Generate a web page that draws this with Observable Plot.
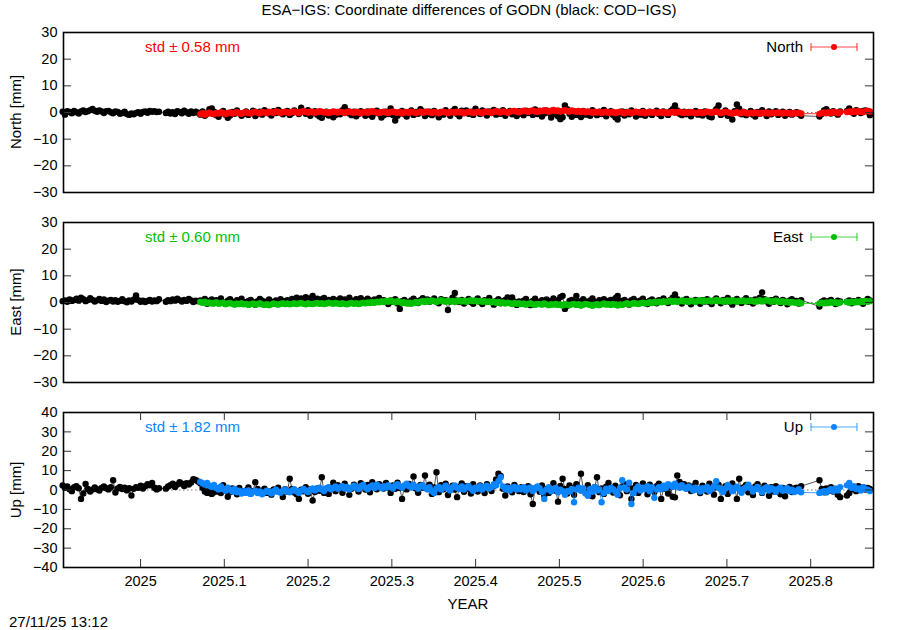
<!DOCTYPE html>
<html><head><meta charset="utf-8">
<script src="https://cdn.jsdelivr.net/npm/d3@7"></script>
<script src="https://cdn.jsdelivr.net/npm/@observablehq/plot@0.6"></script>
<style>
body{margin:0;background:#fff;}
#wrap{position:relative;width:900px;height:630px;font-family:"Liberation Sans",Arial,Helvetica,sans-serif;font-size:15px;color:#000;overflow:hidden;background:#fff;}
.abs{position:absolute;white-space:nowrap;line-height:18px;}
</style></head><body><div id="wrap"></div>
<script>
const title = "ESA\u2212IGS: Coordinate differences of GODN (black: COD\u2212IGS)";
const timestamp = "27/11/25 13:12";
const xLabel = "YEAR";
const xTicks = [2025, 2025.1, 2025.2, 2025.3, 2025.4, 2025.5, 2025.6, 2025.7, 2025.8];
const xDomain = [2024.908, 2025.875];
const blackStart = 2024.907;   // decimal year of first COD-IGS epoch (daily)
const colorStartDay = 60;      // ESA-IGS series starts 60 days later
const names = ["North", "East", "Up"];
const axisLabels = ["North [mm]", "East [mm]", "Up [mm]"];
const stdTexts = ["std \u00b1 0.58 mm", "std \u00b1 0.60 mm", "std \u00b1 1.82 mm"];
const colors = ["#ff0000", "#00c000", "#0a85ff"];
const yTicksNE = [-30, -20, -10, 0, 10, 20, 30];
const yTicksU = [-40, -30, -20, -10, 0, 10, 20, 30, 40];

// COD-IGS (black), daily
const northCOD = [
0.3,-0.8,0.5,0.2,-0.3,0.6,0.1,-0.4,0.4,0.8,0.2,0.5,0.9,1.3,0.7,0.3,0.8,0.4,-0.2,0.5,
0.6,0.1,-0.3,0.4,0.2,-0.5,-0.2,0.3,-0.6,-0.9,-0.4,-0.7,-0.2,0.1,-0.5,0.2,0.4,-0.1,0.6,0.3,
0.5,0.2,0.3,null,null,-0.2,0.3,-0.4,0.1,-0.6,0.5,0.2,-0.3,0.7,0.1,-0.5,0.4,-0.2,0.3,-0.1,
-0.8,0.4,-1.2,-0.5,1.2,1.5,0.3,-1.0,-1.6,-0.4,0.6,-0.8,-2.0,-1.1,0.2,-0.5,0.8,-0.3,-1.2,-0.6,
0.4,-0.9,-0.2,0.7,-1.3,-0.5,0.3,-0.8,0.9,0.2,-0.4,-1.1,0.5,-0.2,1.0,0.3,-0.7,-0.1,0.6,-0.9,
-0.3,0.8,0.2,-0.6,1.8,0.4,-0.5,0.9,-1.2,-0.3,0.5,-0.8,-1.5,-2.0,-0.6,0.3,-1.1,-0.2,-1.8,-0.9,
0.2,-0.7,0.9,2.0,0.6,-0.4,-1.0,0.3,-1.4,-0.6,0.5,-0.2,-1.2,0.4,-0.8,-1.6,-0.3,0.7,-0.5,-1.9,
-1.0,0.3,-0.6,1.5,-0.9,-3.0,-1.2,-0.4,0.6,-0.7,-1.5,-0.2,0.8,-0.9,0.2,-0.5,1.2,0.4,-1.3,-0.6,
0.3,-1.0,0.6,-0.4,-1.8,0.2,-0.8,0.9,-0.3,-1.2,0.5,1.3,-0.6,-1.4,0.7,-0.2,0.8,-0.5,0.3,-0.9,
1.4,0.2,-0.6,0.8,-0.3,-1.1,0.4,-0.2,1.0,-0.8,0.3,-0.5,0.9,-1.2,0.1,0.6,-0.7,0.2,-1.3,0.5,
-0.4,-1.0,0.7,-0.2,0.4,-0.9,1.1,-0.6,0.3,-1.5,-0.4,0.8,-0.1,-1.9,0.5,-0.7,-1.4,-2.5,-1.8,2.6,
1.2,-0.5,-1.6,0.4,-0.9,-0.3,-1.7,0.6,-0.8,0.2,-1.2,0.9,-0.4,-1.0,0.3,-0.6,1.0,-1.4,-0.2,0.5,
-0.9,-1.8,-2.6,-0.5,0.4,-1.1,0.2,-0.7,0.8,-0.3,-1.5,0.1,-0.8,0.6,-1.2,-0.4,0.3,-0.9,-0.2,0.7,
-0.6,-1.3,0.4,-0.2,-0.9,0.5,1.2,2.6,0.8,-0.5,-1.0,0.3,-0.7,0.2,-1.4,-0.3,0.6,-0.8,0.1,-1.1,
0.4,-0.6,-1.5,-1.8,0.3,1.2,2.6,-0.9,-0.3,0.8,-1.2,-0.4,-2.6,0.5,3.0,1.4,-0.7,0.2,-1.0,-0.3,
0.6,-0.8,-1.5,0.2,-0.5,0.9,-0.2,-1.3,0.4,-0.7,-0.1,0.5,-0.9,-0.4,0.3,-1.2,-0.6,0.2,-0.8,-0.3,
0.1,-0.5,-1.2,null,null,null,null,null,null,null,-1.5,-0.6,0.8,1.2,0.3,-0.4,0.5,-0.2,-0.8,0.4,
null,null,0.6,1.5,0.2,-0.5,0.9,0.3,-0.2,0.6,0.8,0.4,-1.0];
const eastCOD = [
0.5,0.8,0.3,1.1,0.6,0.9,1.4,0.7,1.8,1.2,0.5,0.9,1.6,1.0,0.4,0.8,1.3,0.6,1.1,0.2,
0.7,1.0,0.4,0.9,0.3,0.6,1.2,0.5,0.1,0.8,0.4,1.1,2.6,0.9,0.3,0.7,0.2,0.6,1.0,0.4,
0.8,0.5,1.2,null,null,0.3,0.9,0.5,1.1,0.7,1.4,0.9,0.4,1.0,0.6,1.3,0.8,0.2,0.7,0.5,
0.8,0.2,1.3,-0.5,0.6,1.1,-0.3,0.9,0.4,1.5,0.1,-0.6,0.7,1.2,0.3,-0.4,0.9,0.5,1.4,0.2,
-0.3,0.6,1.0,0.2,-0.8,0.5,1.3,0.7,-0.2,0.4,1.1,0.3,-0.5,0.8,0.2,1.2,0.6,-0.1,0.9,0.4,
1.3,0.7,1.8,0.9,1.5,0.6,2.0,1.1,1.6,2.5,0.8,1.4,0.5,1.2,1.7,0.4,1.0,0.6,1.3,0.2,
0.9,1.5,0.6,1.1,0.3,1.8,0.7,0.2,1.2,0.5,1.6,0.9,0.3,1.4,0.8,0.1,1.1,0.6,1.7,0.4,
0.9,0.2,-0.6,0.8,0.3,1.2,-0.4,-2.4,0.5,1.0,0.2,-0.3,0.8,1.4,0.6,-0.2,0.9,1.6,0.4,1.1,
0.3,0.8,1.5,0.5,-0.3,1.2,0.6,0.9,-2.8,0.4,1.8,3.6,0.7,0.2,1.0,-0.4,0.6,1.3,0.2,-0.5,
0.8,1.5,0.3,-0.6,0.9,0.4,1.7,0.2,-0.8,0.6,1.2,-0.3,0.5,1.0,1.9,0.6,1.9,0.3,-0.9,0.4,
-0.5,0.7,1.3,0.1,-1.0,0.6,1.4,0.3,-0.4,0.9,-0.2,1.1,0.5,-0.6,1.5,0.8,0.2,2.0,2.5,-2.4,
-1.2,0.6,1.0,0.2,2.5,0.5,-1.0,1.2,0.4,-0.3,0.8,1.5,0.2,-0.5,0.9,0.3,1.2,-0.2,0.6,1.0,
0.4,1.6,2.5,0.7,-0.4,1.0,0.3,-0.8,0.9,1.3,0.5,-0.2,0.8,1.4,0.2,-0.6,0.7,1.1,0.4,-0.3,
0.9,0.3,1.5,0.6,-0.2,1.0,1.8,3.0,1.2,0.5,-0.4,0.8,1.3,0.2,-0.7,0.6,1.0,0.3,-0.5,0.9,
0.4,1.2,0.2,-0.6,0.8,1.5,0.6,-0.3,1.0,0.4,1.7,0.2,-0.8,0.7,1.3,0.5,-0.2,0.9,1.6,0.3,
0.8,-0.4,1.1,0.5,1.8,3.8,1.2,0.4,-0.5,0.9,0.3,1.4,0.6,-0.2,1.0,0.4,-0.7,0.8,1.2,0.3,
0.6,-0.4,0.9,null,null,null,null,null,null,null,-1.5,0.3,0.8,-0.2,0.5,1.0,0.2,-0.6,0.7,0.4,
null,null,0.3,0.8,-0.3,0.5,0.2,1.0,0.4,-0.5,0.6,1.3,0.8];
const upCOD = [
2.3,1.2,1.8,0.4,-0.6,1.5,2.0,0.9,-4.6,-1.8,3.1,0.5,-0.8,0.2,1.3,0.4,-0.3,1.1,1.8,0.9,
0.3,1.4,5.0,-1.3,0.8,1.6,0.5,1.2,-0.2,0.9,-2.8,0.6,1.5,1.1,2.2,0.8,1.9,3.0,2.4,3.6,
1.2,0.3,0.9,null,null,0.7,1.8,2.5,3.3,1.6,2.8,4.0,3.2,2.1,3.5,2.8,3.9,5.6,5.2,4.4,
3.5,1.2,-0.8,-1.5,0.4,-2.0,-1.2,0.6,-0.9,-1.6,2.5,-0.4,-3.5,-1.1,0.8,-0.3,-2.2,1.0,-0.5,-1.4,
-0.2,1.3,-1.8,-0.6,4.0,0.5,-1.1,-0.3,0.7,-1.5,-0.8,-2.4,0.3,-0.6,1.2,-1.0,-3.6,0.4,-0.9,5.8,
0.6,-1.3,-2.2,-4.6,0.2,-0.7,1.5,-1.9,0.3,-5.4,-1.0,0.8,-0.4,6.6,-1.5,0.5,-2.0,1.2,3.8,-0.6,
2.5,0.8,-1.4,3.2,1.0,-2.5,0.6,2.8,1.4,-0.8,3.5,1.9,0.2,2.6,-1.2,4.0,1.5,0.4,3.0,2.2,
0.8,3.6,1.2,-1.5,2.4,0.6,3.8,1.0,-4.6,2.0,0.3,3.1,1.6,7.0,0.8,-1.4,2.6,1.1,7.5,0.5,
2.8,-2.0,1.3,9.2,-1.1,2.5,0.4,3.3,-2.6,1.0,2.2,0.2,-3.7,1.6,3.4,-0.9,2.0,0.6,-1.8,3.0,
1.0,-0.8,2.4,0.5,-1.6,3.0,1.4,-0.5,2.2,5.5,8.4,7.2,0.6,-2.8,1.8,0.3,-1.2,2.6,1.0,-0.6,
1.5,-1.0,0.4,2.0,-2.2,-7.2,0.8,1.6,-0.9,2.3,-2.8,0.5,-1.5,1.2,3.5,-0.4,-6.0,2.1,5.8,0.6,
-1.8,2.4,0.9,-2.5,3.0,1.2,8.4,0.2,-1.4,2.5,0.6,-3.2,1.5,6.6,-1.1,0.8,-2.0,1.7,3.6,0.4,
-1.3,2.2,0.5,-2.7,1.8,3.0,-0.6,1.2,-4.6,0.9,2.6,-1.5,0.4,3.4,1.0,-2.2,2.8,0.3,-1.0,1.9,
3.2,-4.6,0.7,2.0,-1.8,1.4,-3.5,-3.8,7.5,4.2,1.6,3.0,0.8,2.4,-0.5,1.8,3.6,0.2,-1.6,2.2,
1.0,-0.8,3.2,0.6,-2.4,1.5,2.8,-4.6,-0.3,1.9,-2.0,0.8,3.4,1.2,-4.6,5.8,-0.6,1.5,2.6,-1.2,
0.9,-2.6,1.8,3.0,0.4,-1.5,2.2,0.6,-3.0,1.4,-0.8,2.0,0.3,-2.2,1.1,-3.2,0.5,1.6,-1.0,0.8,
1.2,-0.5,2.0,null,null,null,null,null,null,null,5.0,0.6,-1.2,0.8,-0.4,1.5,-0.8,0.3,-2.5,-3.7,
null,null,-2.8,-1.5,0.4,1.2,-0.6,2.0,0.8,1.5,0.2,1.0,0.5];

// ESA-IGS (coloured), daily
const northESA = [
-0.6,-0.3,-0.8,-0.4,-0.1,-0.5,-0.7,-0.2,-0.4,0.1,-0.3,-0.6,-0.2,0.0,-0.4,-0.1,0.2,-0.3,-0.5,-0.1,
0.1,-0.2,-0.4,0.0,0.3,-0.1,-0.3,0.2,0.0,-0.2,0.3,0.1,-0.1,0.4,0.2,-0.2,0.1,0.3,0.0,-0.1,
0.2,0.4,0.1,-0.2,0.3,0.5,0.2,0.0,0.4,0.1,-0.1,0.2,0.5,0.3,0.0,0.2,-0.2,0.1,0.4,0.2,
0.0,0.3,0.1,-0.2,0.2,0.4,0.1,-0.1,0.3,0.0,-0.3,0.1,0.2,-0.1,0.3,0.5,0.2,0.0,-0.2,0.1,
0.3,0.0,-0.2,0.2,0.4,0.1,-0.1,0.2,-0.3,0.0,0.2,-0.1,0.3,0.1,-0.2,0.0,0.3,-0.1,0.2,0.4,
0.1,-0.2,0.2,0.0,-0.3,0.1,0.3,0.0,-0.2,0.2,0.1,-0.1,0.3,0.0,0.2,-0.3,0.0,0.2,0.1,-0.2,
0.1,0.3,0.0,-0.2,0.2,0.4,0.1,-0.1,0.3,0.5,0.2,0.0,0.4,0.2,-0.1,0.3,0.5,0.6,0.3,0.1,
0.4,0.7,0.5,0.2,0.6,0.8,0.4,0.3,0.7,0.5,0.9,0.6,0.3,0.7,1.0,0.5,0.8,0.4,0.6,0.9,
0.7,0.4,0.8,0.5,0.3,0.6,0.2,0.5,0.1,0.4,0.2,-0.1,0.3,0.0,0.2,-0.2,0.1,0.3,-0.1,0.0,
0.2,-0.2,0.1,0.3,0.0,-0.3,0.1,0.2,-0.2,0.0,0.3,0.1,-0.1,0.2,-0.3,0.0,0.2,-0.1,0.1,-0.2,
0.0,0.2,-0.2,0.1,-0.3,0.0,0.2,-0.1,0.1,0.3,0.0,-0.2,0.1,-0.1,0.2,0.0,-0.3,-0.1,0.1,-0.2,
0.0,0.3,0.1,-0.1,0.2,0.4,0.1,-0.2,0.0,0.3,0.1,-0.2,-0.4,-0.1,0.1,-0.3,-0.1,0.2,-0.2,-0.4,
-0.1,-0.3,0.0,-0.2,-0.5,-0.1,-0.3,0.0,-0.4,-0.2,-0.1,-0.3,0.0,-0.2,-0.4,-0.1,-0.3,-0.2,-0.5,-0.2,
-0.3,-0.1,-0.4,null,null,null,null,null,null,null,-0.5,-0.2,0.0,-0.3,0.1,-0.2,0.2,0.0,-0.3,0.1,
null,null,0.2,0.4,0.1,0.5,0.2,0.6,0.3,0.1,0.5,0.7,0.4];
const eastESA = [
0.2,-0.1,0.3,-0.3,0.0,-0.4,-0.2,0.1,-0.5,-0.3,-0.1,-0.6,-0.4,-0.2,-0.5,-0.8,-0.4,-0.6,-0.3,-0.7,
-0.5,-0.9,-0.6,-0.4,-0.8,-0.5,-0.3,-0.7,-0.9,-0.6,-1.0,-0.7,-0.4,-0.6,-0.8,-0.5,-0.3,-0.6,-0.4,-0.7,
-0.5,-0.3,-0.6,-0.4,-0.2,-0.5,-0.7,-0.3,-0.5,-0.6,-0.4,-0.2,-0.5,-0.3,-0.6,-0.4,-0.1,-0.3,-0.5,-0.2,
-0.4,-0.6,-0.3,-0.5,-0.7,-0.4,-0.2,-0.5,-0.3,-0.6,-0.4,-0.1,-0.3,0.0,-0.2,0.2,-0.1,0.3,0.1,0.5,
0.2,0.6,0.3,0.8,0.4,0.1,0.5,0.2,-0.2,0.1,-0.4,-0.1,-0.5,-0.2,0.2,-0.1,0.3,0.6,0.2,0.7,
0.4,0.8,0.5,0.2,0.6,0.9,0.5,0.3,0.7,0.4,0.6,0.2,0.5,0.8,0.4,0.7,0.3,0.6,0.9,0.5,
0.7,0.4,0.6,0.3,0.5,0.2,0.4,0.1,0.3,-0.1,0.2,-0.2,0.0,-0.4,-0.1,-0.3,-0.6,-0.2,-0.5,-0.3,
-0.6,-0.4,-0.8,-0.5,-0.3,-0.7,-0.9,-0.5,-0.6,-0.8,-0.4,-0.7,-1.0,-0.6,-0.8,-0.5,-0.9,-0.7,-1.1,-0.6,
-0.8,-1.0,-0.7,-0.5,-0.9,-0.6,-1.1,-0.8,-0.5,-0.7,-0.9,-1.2,-0.8,-0.6,-1.0,-0.7,-0.4,-0.8,-0.6,-0.9,
-0.5,-0.8,-1.1,-0.7,-0.9,-0.6,-0.3,-0.7,-0.5,-0.2,-0.4,-0.6,-0.3,-0.1,-0.4,-0.2,0.1,-0.2,0.2,0.0,
0.3,0.1,0.5,0.2,0.4,0.7,0.3,0.6,0.2,0.5,0.8,0.4,0.6,0.3,0.7,0.5,0.2,0.6,0.9,0.4,
0.7,0.5,0.8,0.4,0.6,1.0,0.5,0.7,0.3,0.6,0.8,0.4,0.9,0.6,0.3,0.7,0.5,0.8,0.4,0.6,
0.8,0.5,0.3,0.6,0.9,0.4,0.7,1.0,0.6,0.3,0.5,0.8,0.4,0.2,0.5,0.1,0.3,-0.1,0.2,0.0,
-0.2,0.1,-0.3,null,null,null,null,null,null,null,-0.4,-0.1,-0.3,0.0,-0.2,0.2,-0.1,0.1,-0.3,0.0,
null,null,0.2,-0.1,0.3,0.0,0.4,0.1,0.5,0.2,0.6,0.3,0.5];
const upESA = [
4.2,3.5,2.8,3.6,2.2,1.5,2.6,1.0,0.3,1.8,0.5,-0.4,1.2,0.2,-0.8,0.6,-1.2,-0.3,-1.8,-0.6,
-1.5,-0.2,-2.0,-1.0,-0.4,-1.6,-0.8,-2.2,-1.2,-0.3,-1.0,-1.8,-0.6,0.2,-0.9,-1.4,-0.5,0.3,-0.8,-1.2,
-0.2,0.4,-0.6,-1.5,-0.3,0.6,-0.4,-1.0,0.2,0.8,-0.2,0.5,1.2,0.3,-0.5,0.9,1.5,0.4,1.0,1.8,
0.6,1.3,2.0,0.8,1.6,0.2,1.1,2.2,1.4,0.5,1.9,2.6,1.2,0.4,1.6,2.3,1.0,2.8,1.7,0.9,
2.0,1.2,2.5,1.6,0.8,2.2,3.0,1.8,1.1,2.4,3.2,2.0,1.3,2.7,1.5,0.6,1.9,2.5,1.2,0.4,
1.4,-0.6,-1.5,0.8,1.6,0.3,1.0,2.2,0.9,-0.2,1.5,2.4,1.1,0.5,1.8,0.2,1.3,2.1,0.8,-0.4,
1.2,0.6,1.9,0.3,1.4,2.2,0.8,1.6,3.0,2.4,4.5,6.6,1.8,0.5,1.2,-0.3,0.9,1.6,0.2,1.1,
0.4,1.5,-0.2,0.8,1.3,-0.5,0.6,1.8,0.9,-1.0,-4.6,0.3,1.4,-0.7,0.5,1.0,-1.2,0.2,-0.6,-2.5,
-0.6,-0.8,0.6,-6.3,0.2,1.2,-0.4,0.8,-1.8,-3.0,0.5,-0.9,1.4,-0.2,0.3,-6.3,-1.6,0.7,-0.5,1.1,
0.4,-0.8,-2.4,0.9,5.0,1.3,0.2,3.8,-7.2,-1.5,0.6,1.8,-0.3,1.2,0.5,2.0,-0.6,1.4,-4.0,0.2,
1.5,0.4,2.2,1.0,3.0,2.4,1.6,3.2,2.0,1.1,2.5,1.3,0.6,1.8,0.9,-0.2,1.2,0.5,-0.8,0.9,
0.3,1.6,-0.5,0.7,1.9,4.5,1.2,0.4,-1.0,0.8,2.6,1.4,-0.6,0.9,1.7,0.2,-1.4,0.6,1.3,2.8,
1.0,-0.8,0.5,1.6,0.2,-1.2,0.8,1.5,-0.3,0.9,0.4,-0.9,0.6,1.2,-0.4,0.3,0.9,-0.6,0.2,-1.0,
-0.5,0.4,-1.2,null,null,null,null,null,null,null,-1.5,-1.0,-0.6,-1.3,-0.2,0.4,-0.5,0.8,-0.2,1.5,
null,null,2.4,3.6,1.2,2.0,0.5,0.8,-0.3,1.4,0.6,0.2,-0.5];

const blackSeries = [northCOD, eastCOD, upCOD];
const colorSeries = [northESA, eastESA, upESA];

// layout
const W = 900, ML = 63, MR = 27;
const panels = [
  {top: 0,   height: 200, mt: 32, mb: 8,  yDomain: [-30, 30], yTicks: yTicksNE, xAxis: false},
  {top: 200, height: 200, mt: 22, mb: 18, yDomain: [-30, 30], yTicks: yTicksNE, xAxis: false},
  {top: 400, height: 230, mt: 12, mb: 63, yDomain: [-40, 40], yTicks: yTicksU,  xAxis: true}
];
const fmtY = d => d < 0 ? "\u2212" + Math.abs(d) : String(d);
const font = '"Liberation Sans", Arial, Helvetica, sans-serif';
const wrap = document.getElementById("wrap");

function addText(txt, css) {
  const d = document.createElement("div");
  d.className = "abs";
  d.textContent = txt;
  Object.assign(d.style, css);
  wrap.appendChild(d);
  return d;
}

panels.forEach((p, k) => {
  const col = colors[k];
  const toRows = (arr, off) => arr.map((v, i) => ({t: blackStart + (off + i) / 365.25, v})).filter(d => d.v != null);
  const blk = toRows(blackSeries[k], 0);
  const clr = toRows(colorSeries[k], colorStartDay);
  const fw = W - ML - MR, fh = p.height - p.mt - p.mb;
  const marks = [
    Plot.ruleY([0], {stroke: "#777", strokeWidth: 1, strokeDasharray: "1.5,2.5"}),
    Plot.line(blk, {x: "t", y: "v", stroke: "#000", strokeWidth: 0.8, strokeOpacity: 0.85}),
    Plot.dot(blk, {x: "t", y: "v", r: 3.2, fill: "#000", stroke: "none"}),
    Plot.line(clr, {x: "t", y: "v", stroke: col, strokeWidth: 0.8}),
    Plot.dot(clr, {x: "t", y: "v", r: 3.2, fill: col, stroke: "none"}),
    Plot.tickY(p.yTicks, {y: d => d, insetRight: fw - 8, stroke: "#333"}),
    Plot.tickY(p.yTicks, {y: d => d, insetLeft: fw - 8, stroke: "#333"}),
    Plot.axisY(p.yTicks, {anchor: "left", tickSize: 0, tickPadding: 6, tickFormat: fmtY, label: null}),
    Plot.frame({stroke: "#000", strokeWidth: 1.6})
  ];
  if (p.xAxis) {
    marks.push(
      Plot.tickX(xTicks, {x: d => d, insetBottom: fh - 8, stroke: "#333"}),
      Plot.tickX(xTicks, {x: d => d, insetTop: fh - 8, stroke: "#333"}),
      Plot.axisX(xTicks, {anchor: "bottom", tickSize: 0, tickPadding: 8, tickFormat: d => String(d), label: null})
    );
  }
  const svg = Plot.plot({
    width: W, height: p.height,
    marginLeft: ML, marginRight: MR, marginTop: p.mt, marginBottom: p.mb,
    x: {domain: xDomain, axis: p.xAxis ? undefined : null},
    y: {domain: p.yDomain},
    style: {fontSize: "14.5px", fontFamily: font, background: "transparent", overflow: "visible", color: "#000"},
    marks
  });
  svg.style.position = "absolute";
  svg.style.left = "0px";
  svg.style.top = p.top + "px";
  wrap.appendChild(svg);

  const frameTop = p.top + p.mt;
  const frameMid = p.top + p.mt + fh / 2;
  // std annotation
  addText(stdTexts[k], {left: "145px", top: (frameTop + 6) + "px", color: col});
  // legend
  addText(names[k], {right: (W - 803) + "px", top: (frameTop + 6) + "px"});
  const ns = "http://www.w3.org/2000/svg";
  const g = document.createElementNS(ns, "svg");
  g.setAttribute("width", 50); g.setAttribute("height", 10);
  g.style.position = "absolute"; g.style.left = "809px"; g.style.top = (frameTop + 10) + "px";
  g.innerHTML = `<g stroke="${col}" stroke-opacity="0.7" stroke-width="1.2"><line x1="2" y1="5" x2="48" y2="5"/><line x1="2" y1="1" x2="2" y2="9"/><line x1="48" y1="1" x2="48" y2="9"/></g><circle cx="25" cy="5" r="3" fill="${col}"/>`;
  wrap.appendChild(g);
  // y-axis label
  addText(axisLabels[k], {left: "16px", top: frameMid + "px", transform: "translate(-50%,-50%) rotate(-90deg)"});
});

addText(title, {left: "469px", top: "1px", transform: "translateX(-50%)"});
addText(xLabel, {left: "468px", top: "595px", transform: "translateX(-50%)"});
addText(timestamp, {left: "9px", top: "613px"});
</script></body></html>
